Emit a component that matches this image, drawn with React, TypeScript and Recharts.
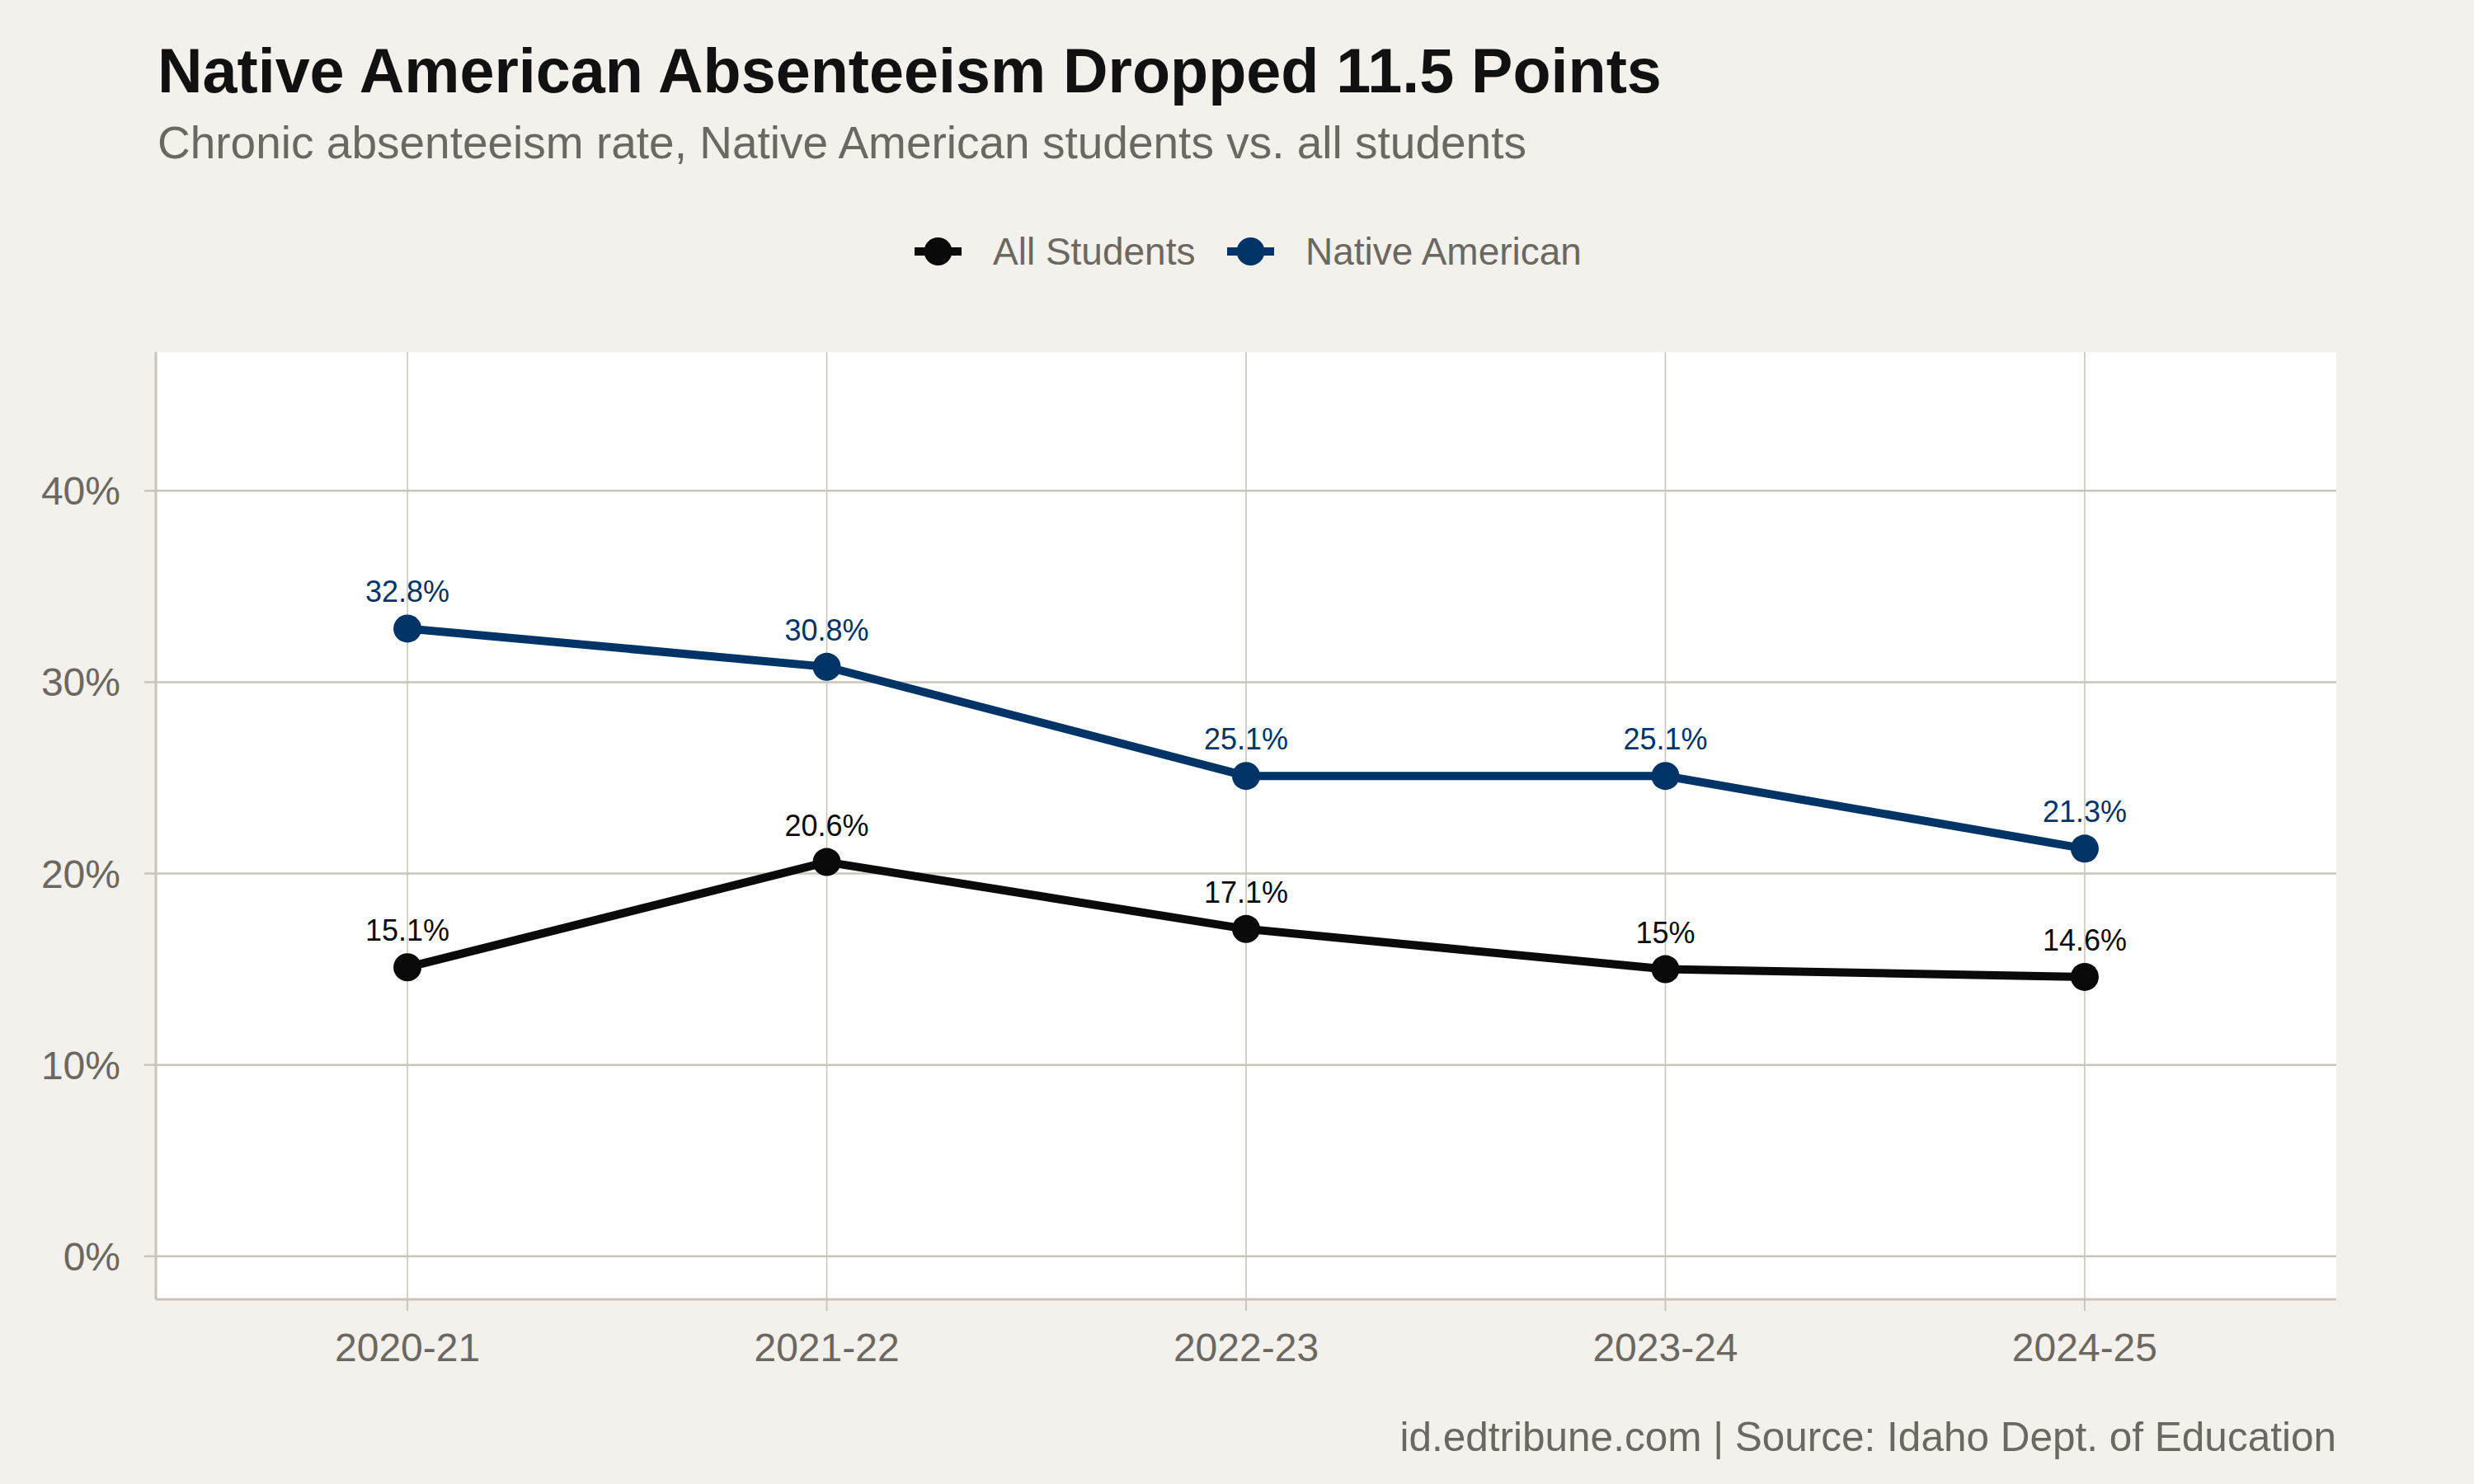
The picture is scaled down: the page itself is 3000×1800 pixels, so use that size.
import { LineChart, Line, XAxis, YAxis, CartesianGrid, LabelList } from 'recharts'

const seasons = ['2020-21', '2021-22', '2022-23', '2023-24', '2024-25']
const allStudents = [15.1, 20.6, 17.1, 15, 14.6]
const nativeAmerican = [32.8, 30.8, 25.1, 25.1, 21.3]
const yTicks = [0, 10, 20, 30, 40]

const rows = seasons.map((season, i) => ({
  x: i + 1,
  season,
  all: allStudents[i],
  native: nativeAmerican[i],
}))

const FONT = '"Liberation Sans", Arial, Helvetica, sans-serif'
const BG = '#f4f1ec'
const GRID = '#cbc4ba'
const GREY = '#6b6761'
const BLACK = '#0a0a0a'
const BLUE = '#003366'

function makeLabel(color: string) {
  return (props: any) => {
    const { x, y, value } = props
    return (
      <text
        x={x}
        y={y - 32}
        textAnchor="middle"
        fill={color}
        fontSize={36}
        fontFamily={FONT}
      >
        {`${value}%`}
      </text>
    )
  }
}

function LegendKey({ x, color, label }: { x: number; color: string; label: string }) {
  return (
    <g>
      <line x1={x} x2={x + 57} y1={305} y2={305} stroke={color} strokeWidth={10} />
      <circle cx={x + 28.5} cy={305} r={17} fill={color} />
      <text x={x + 95} y={321} fontSize={46} fill={GREY} fontFamily={FONT}>
        {label}
      </text>
    </g>
  )
}

export default function App() {
  return (
    <div
      style={{
        position: 'absolute',
        left: 0,
        top: 0,
        width: 3000,
        height: 1800,
        background: BG,
        fontFamily: FONT,
      }}
    >
      <LineChart
        width={3000}
        height={1800}
        data={rows}
        margin={{ top: 427, right: 167, left: 69, bottom: 124 }}
      >
        <CartesianGrid
          vertical={false}
          syncWithTicks
          fill="#ffffff"
          stroke={GRID}
          strokeWidth={2.5}
        />
        <CartesianGrid horizontal={false} syncWithTicks stroke={GRID} strokeWidth={1.6} />
        <XAxis
          dataKey="x"
          type="number"
          domain={[0.4, 5.6]}
          ticks={[1, 2, 3, 4, 5]}
          allowDataOverflow
          height={100}
          tickFormatter={(v) => seasons[v - 1]}
          tick={{ fontSize: 48, fill: GREY, fontFamily: FONT }}
          axisLine={{ stroke: GRID, strokeWidth: 3 }}
          tickLine={{ stroke: GRID, strokeWidth: 2 }}
          tickSize={14}
          tickMargin={27}
        />
        <YAxis
          type="number"
          domain={[-2.25, 47.25]}
          ticks={yTicks}
          allowDataOverflow
          width={120}
          tickFormatter={(v) => `${v}%`}
          tick={{ fontSize: 48, fill: GREY, fontFamily: FONT }}
          axisLine={{ stroke: GRID, strokeWidth: 3 }}
          tickLine={{ stroke: GRID, strokeWidth: 2.5 }}
          tickSize={14}
          tickMargin={29}
        />
        <Line
          dataKey="all"
          type="linear"
          stroke={BLACK}
          strokeWidth={10}
          dot={{ r: 17, fill: BLACK, stroke: BLACK, strokeWidth: 0 }}
          activeDot={false}
          isAnimationActive={false}
        >
          <LabelList dataKey="all" content={makeLabel(BLACK)} />
        </Line>
        <Line
          dataKey="native"
          type="linear"
          stroke={BLUE}
          strokeWidth={10}
          dot={{ r: 17, fill: BLUE, stroke: BLUE, strokeWidth: 0 }}
          activeDot={false}
          isAnimationActive={false}
        >
          <LabelList dataKey="native" content={makeLabel(BLUE)} />
        </Line>
      </LineChart>

      <svg
        width={3000}
        height={1800}
        style={{ position: 'absolute', left: 0, top: 0, pointerEvents: 'none' }}
      >
        <text x={191} y={112} fontSize={75.5} fontWeight="bold" fill="#111111" fontFamily={FONT}>
          Native American Absenteeism Dropped 11.5 Points
        </text>
        <text x={191} y={192} fontSize={55} fill={GREY} fontFamily={FONT}>
          Chronic absenteeism rate, Native American students vs. all students
        </text>
        <LegendKey x={1109} color={BLACK} label="All Students" />
        <LegendKey x={1488} color={BLUE} label="Native American" />
        <text x={2833} y={1760} fontSize={49.5} fill={GREY} textAnchor="end" fontFamily={FONT}>
          id.edtribune.com | Source: Idaho Dept. of Education
        </text>
      </svg>
    </div>
  )
}
